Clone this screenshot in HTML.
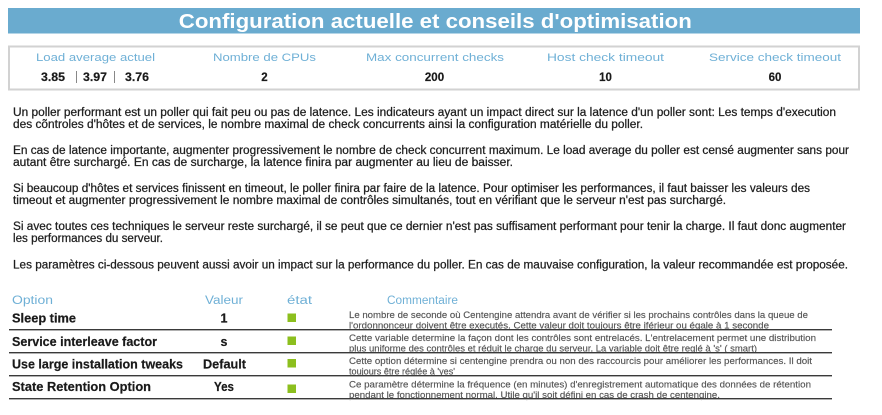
<!DOCTYPE html>
<html><head><meta charset="utf-8"><style>
html,body{margin:0;padding:0;background:#fff;}
svg{display:block;}
text{font-family:"Liberation Sans",sans-serif;}
.p{font-size:11.5px;fill:#1e1e1e;stroke:#1e1e1e;stroke-width:0.25px;}
.lbl{font-size:11px;fill:#6fb0d6;}
.val{font-size:11.5px;font-weight:bold;fill:#1a1a1a;stroke:#1a1a1a;stroke-width:0.2px;}
.th{font-size:11.5px;fill:#6fb0d6;}
.opt{font-size:12.5px;font-weight:bold;fill:#1a1a1a;stroke:#1a1a1a;stroke-width:0.2px;}
.cm{font-size:9px;fill:#555;stroke:#555;stroke-width:0.15px;}
</style></head><body>
<svg width="882" height="415" viewBox="0 0 882 415" xmlns="http://www.w3.org/2000/svg">
<rect x="0" y="0" width="882" height="415" fill="#fff"/>
<!-- title bar -->
<rect x="8" y="8" width="852" height="25.5" fill="#6aabcf"/>
<text x="435.3" y="28" text-anchor="middle" font-size="20" font-weight="bold" fill="#fff" textLength="513" lengthAdjust="spacingAndGlyphs">Configuration actuelle et conseils d'optimisation</text>
<!-- info box -->
<rect x="9" y="46.5" width="850" height="43" fill="#fff" stroke="#d2d2d2" stroke-width="2"/>
<text class="lbl" x="95.5" y="61" text-anchor="middle" textLength="119" lengthAdjust="spacingAndGlyphs">Load average actuel</text>
<text class="lbl" x="264.5" y="61" text-anchor="middle" textLength="103" lengthAdjust="spacingAndGlyphs">Nombre de CPUs</text>
<text class="lbl" x="435" y="61" text-anchor="middle" textLength="138" lengthAdjust="spacingAndGlyphs">Max concurrent checks</text>
<text class="lbl" x="605.5" y="61" text-anchor="middle" textLength="117" lengthAdjust="spacingAndGlyphs">Host check timeout</text>
<text class="lbl" x="775" y="61" text-anchor="middle" textLength="132" lengthAdjust="spacingAndGlyphs">Service check timeout</text>
<text class="val" x="41" y="81" textLength="24" lengthAdjust="spacingAndGlyphs">3.85</text>
<line x1="76.5" y1="71" x2="76.5" y2="83" stroke="#888" stroke-width="1"/>
<text class="val" x="83" y="81" textLength="24" lengthAdjust="spacingAndGlyphs">3.97</text>
<line x1="114.5" y1="71" x2="114.5" y2="83" stroke="#888" stroke-width="1"/>
<text class="val" x="125" y="81" textLength="24" lengthAdjust="spacingAndGlyphs">3.76</text>
<text class="val" x="264.5" y="81" text-anchor="middle">2</text>
<text class="val" x="434.5" y="81" text-anchor="middle">200</text>
<text class="val" x="605.5" y="81" text-anchor="middle">10</text>
<text class="val" x="775" y="81" text-anchor="middle">60</text>
<!-- paragraphs -->
<text class="p" x="13" y="116" textLength="823" lengthAdjust="spacingAndGlyphs">Un poller performant est un poller qui fait peu ou pas de latence. Les indicateurs ayant un impact direct sur la latence d'un poller sont: Les temps d'execution</text>
<text class="p" x="13" y="128" textLength="630" lengthAdjust="spacingAndGlyphs">des cõntroles d'hôtes et de services, le nombre maximal de check concurrents ainsi la configuration matérielle du poller.</text>
<text class="p" x="13" y="154" textLength="836" lengthAdjust="spacingAndGlyphs">En cas de latence importante, augmenter progressivement le nombre de check concurrent maximum. Le load average du poller est censé augmenter sans pour</text>
<text class="p" x="13" y="166" textLength="500" lengthAdjust="spacingAndGlyphs">autant être surchargé. En cas de surcharge, la latence finira par augmenter au lieu de baisser.</text>
<text class="p" x="13" y="192" textLength="797" lengthAdjust="spacingAndGlyphs">Si beaucoup d'hôtes et services finissent en timeout, le poller finira par faire de la latence. Pour optimiser les performances, il faut baisser les valeurs des</text>
<text class="p" x="13" y="204" textLength="713" lengthAdjust="spacingAndGlyphs">timeout et augmenter progressivement le nombre maximal de contrôles simultanés, tout en vérifiant que le serveur n'est pas surchargé.</text>
<text class="p" x="13" y="230" textLength="833" lengthAdjust="spacingAndGlyphs">Si avec toutes ces techniques le serveur reste surchargé, il se peut que ce dernier n'est pas suffisament performant pour tenir la charge. Il faut donc augmenter</text>
<text class="p" x="13" y="242" textLength="150" lengthAdjust="spacingAndGlyphs">les performances du serveur.</text>
<text class="p" x="13" y="268.5" textLength="835" lengthAdjust="spacingAndGlyphs">Les paramètres ci-dessous peuvent aussi avoir un impact sur la performance du poller. En cas de mauvaise configuration, la valeur recommandée est proposée.</text>
<!-- table header -->
<text class="th" x="12" y="304" textLength="41" lengthAdjust="spacingAndGlyphs">Option</text>
<text class="th" x="205" y="304" textLength="38" lengthAdjust="spacingAndGlyphs">Valeur</text>
<text class="th" x="287" y="304" textLength="25" lengthAdjust="spacingAndGlyphs">état</text>
<text class="th" x="387" y="304" textLength="71" lengthAdjust="spacingAndGlyphs">Commentaire</text>
<!-- row 1 -->
<text class="opt" x="12" y="322.5" textLength="64" lengthAdjust="spacingAndGlyphs">Sleep time</text>
<text class="opt" x="224" y="322.5" text-anchor="middle">1</text>
<rect x="287.5" y="313.5" width="8.5" height="8.5" fill="#8cbf1e"/>
<text class="cm" x="349" y="318" textLength="459" lengthAdjust="spacingAndGlyphs">Le nombre de seconde où Centengine attendra avant de vérifier si les prochains contrôles dans la queue de</text>
<text class="cm" x="349" y="328.5" textLength="420" lengthAdjust="spacingAndGlyphs">l'ordonnonceur doivent être executés. Cette valeur doit toujours être iférieur ou égale à 1 seconde</text>
<line x1="9" y1="329.5" x2="832" y2="329.5" stroke="#3a3a3a" stroke-width="1"/>
<line x1="9" y1="330.5" x2="832" y2="330.5" stroke="#b0b0b0" stroke-width="1"/>
<!-- row 2 -->
<text class="opt" x="12" y="346" textLength="145" lengthAdjust="spacingAndGlyphs">Service interleave factor</text>
<text class="opt" x="224" y="346" text-anchor="middle">s</text>
<rect x="287.5" y="336.5" width="8.5" height="8.5" fill="#8cbf1e"/>
<text class="cm" x="349" y="341" textLength="467" lengthAdjust="spacingAndGlyphs">Cette variable determine la façon dont les contrôles sont entrelacés. L'entrelacement permet une distribution</text>
<text class="cm" x="349" y="351.5" textLength="408" lengthAdjust="spacingAndGlyphs">plus uniforme des contrôles et réduit le charge du serveur. La variable doit être reglé à 's' ( smart)</text>
<line x1="9" y1="352.5" x2="832" y2="352.5" stroke="#3a3a3a" stroke-width="1"/>
<line x1="9" y1="353.5" x2="832" y2="353.5" stroke="#b0b0b0" stroke-width="1"/>
<!-- row 3 -->
<text class="opt" x="12" y="368.5" textLength="171" lengthAdjust="spacingAndGlyphs">Use large installation tweaks</text>
<text class="opt" x="203" y="368.5" textLength="43" lengthAdjust="spacingAndGlyphs">Default</text>
<rect x="287.5" y="359" width="8.5" height="8.5" fill="#8cbf1e"/>
<text class="cm" x="349" y="364" textLength="463" lengthAdjust="spacingAndGlyphs">Cette option détermine si centengine prendra ou non des raccourcis pour améliorer les performances. Il doit</text>
<text class="cm" x="349" y="374.5" textLength="106" lengthAdjust="spacingAndGlyphs">toujours être réglée à 'yes'</text>
<line x1="9" y1="375.5" x2="832" y2="375.5" stroke="#3a3a3a" stroke-width="1"/>
<line x1="9" y1="376.5" x2="832" y2="376.5" stroke="#b0b0b0" stroke-width="1"/>
<!-- row 4 -->
<text class="opt" x="12" y="391" textLength="139" lengthAdjust="spacingAndGlyphs">State Retention Option</text>
<text class="opt" x="214" y="391" textLength="20" lengthAdjust="spacingAndGlyphs">Yes</text>
<rect x="287.5" y="384.5" width="8.5" height="8.5" fill="#8cbf1e"/>
<text class="cm" x="349" y="387.5" textLength="462" lengthAdjust="spacingAndGlyphs">Ce paramètre détermine la fréquence (en minutes) d'enregistrement automatique des données de rétention</text>
<text class="cm" x="349" y="398" textLength="371" lengthAdjust="spacingAndGlyphs">pendant le fonctionnement normal. Utile qu'il soit défini en cas de crash de centengine.</text>
<line x1="9" y1="398.5" x2="832" y2="398.5" stroke="#3a3a3a" stroke-width="1"/>
<line x1="9" y1="399.5" x2="832" y2="399.5" stroke="#b0b0b0" stroke-width="1"/>
</svg>
</body></html>
